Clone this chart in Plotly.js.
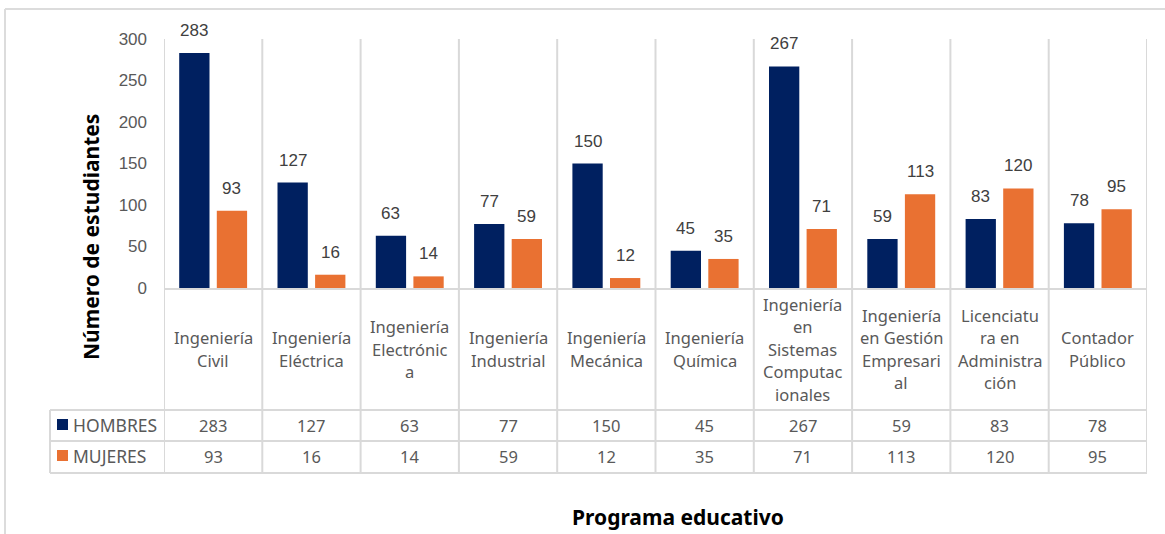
<!DOCTYPE html>
<html>
<head>
<meta charset="utf-8">
<script src="https://cdn.plot.ly/plotly-3.0.1.min.js"></script>
<style>html,body{margin:0;padding:0;background:#fff;}#chart{width:1165px;height:534px;}</style>
</head>
<body>
<div id="chart"></div>
<script>
// ---- data ----
const categories = ["Ingeniería Civil","Ingeniería Eléctrica","Ingeniería Electrónica","Ingeniería Industrial","Ingeniería Mecánica","Ingeniería Química","Ingeniería en Sistemas Computacionales","Ingeniería en Gestión Empresarial","Licenciatura en Administración","Contador Público"];
const categoryLabels = ["Ingeniería<br>Civil","Ingeniería<br>Eléctrica","Ingeniería<br>Electrónic<br>a","Ingeniería<br>Industrial","Ingeniería<br>Mecánica","Ingeniería<br>Química","Ingeniería<br>en<br>Sistemas<br>Computac<br>ionales","Ingeniería<br>en Gestión<br>Empresari<br>al","Licenciatu<br>ra en<br>Administra<br>ción","Contador<br>Público"];
const hombres = [283,127,63,77,150,45,267,59,83,78];
const mujeres = [93,16,14,59,12,35,71,113,120,95];
const seriesNames = ["HOMBRES","MUJERES"];
const yTicks = [0,50,100,150,200,250,300];

// ---- styling / layout helpers ----
const NAVY = "#002060", ORANGE = "#E97132", GRID = "#d9d9d9";
const W = 1165, H = 534, L = 164, R = 1147, T = 39, B = 288;
const px2x = p => (p - L) / (R - L);
const py2y = p => (B - p) / (B - T);
const N = categories.length;
const idx = categories.map((_, i) => i);
const series = [hombres, mujeres];
const colors = [NAVY, ORANGE];
const offs = [-18.8, 18.8];
const TXT = {family: "Noto Sans", size: 16.5, color: "#595959"};

const traces = series.map((vals, s) => ({
  type: "bar", x: idx, y: vals, name: seriesNames[s],
  marker: {color: colors[s]}, hoverinfo: "skip"
}));

const shapes = [];
const annotations = [];
const lineStyle = {color: GRID, width: 2};

// vertical category boundaries through plot, label area and table
for (let i = 0; i <= N; i++) {
  shapes.push({type: "line", xref: "x", yref: "paper", x0: i - 0.5, x1: i - 0.5, y0: py2y(473), y1: 1, line: lineStyle, layer: "below"});
}
// table horizontal lines
[410, 441, 473].forEach(py => shapes.push({type: "line", xref: "paper", yref: "paper", x0: px2x(50), x1: 1, y0: py2y(py), y1: py2y(py), line: lineStyle}));
// table left border
shapes.push({type: "line", xref: "paper", yref: "paper", x0: px2x(50), x1: px2x(50), y0: py2y(410), y1: py2y(473), line: lineStyle});
// outer frame
shapes.push({type: "line", xref: "paper", yref: "paper", x0: px2x(5), x1: px2x(1170), y0: py2y(9), y1: py2y(9), line: {color: "#dcdcdc", width: 2}});
shapes.push({type: "line", xref: "paper", yref: "paper", x0: px2x(5), x1: px2x(5), y0: py2y(9), y1: py2y(540), line: {color: "#dcdcdc", width: 2}});

// legend keys + names in table
const rowY = [425, 456];
series.forEach((vals, s) => {
  shapes.push({type: "rect", xref: "paper", yref: "paper", x0: px2x(57), x1: px2x(68), y0: py2y(rowY[s] - 6), y1: py2y(rowY[s] + 5), fillcolor: colors[s], line: {width: 0}});
  annotations.push({xref: "paper", yref: "paper", x: px2x(71), y: py2y(rowY[s]), xanchor: "left", yanchor: "middle", showarrow: false, text: seriesNames[s], font: {family: "Noto Sans", size: 17.5, color: "#595959"}});
  vals.forEach((v, i) => {
    // table values
    annotations.push({xref: "x", yref: "paper", x: i, y: py2y(rowY[s]), xanchor: "center", yanchor: "middle", showarrow: false, text: String(v), font: TXT});
    // data labels above bars
    annotations.push({xref: "x", yref: "y", x: i, y: v, xshift: offs[s], yshift: 11, xanchor: "center", yanchor: "bottom", showarrow: false, text: String(v), font: {family: "Liberation Sans, Arial", size: 17, color: "#404040"}});
  });
});

// category labels (line by line, centred in label band)
categoryLabels.forEach((lab, i) => {
  const lines = lab.split("<br>");
  const n = lines.length;
  lines.forEach((ln, k) => {
    const py = 349 + (k - (n - 1) / 2) * 22.5;
    annotations.push({xref: "x", yref: "paper", x: i, y: py2y(py), xanchor: "center", yanchor: "middle", showarrow: false, text: ln, font: TXT});
  });
});

// axis titles
annotations.push({xref: "paper", yref: "paper", x: px2x(91), y: py2y(237), xanchor: "center", yanchor: "middle", textangle: -90, showarrow: false, text: "<b>Número de estudiantes</b>", font: {family: "Noto Sans", size: 21, color: "#000"}});
annotations.push({xref: "paper", yref: "paper", x: px2x(678), y: py2y(517), xanchor: "center", yanchor: "middle", showarrow: false, text: "<b>Programa educativo</b>", font: {family: "Noto Sans", size: 21, color: "#000"}});

const layout = {
  width: W, height: H,
  margin: {l: L, r: W - R, t: T, b: H - B, pad: 0},
  paper_bgcolor: "#ffffff", plot_bgcolor: "rgba(0,0,0,0)",
  barmode: "group", bargap: 0.235, bargroupgap: 0.194,
  showlegend: false,
  xaxis: {range: [-0.5, N - 0.5], showticklabels: false, ticks: "", showgrid: false, zeroline: false, showline: true, linecolor: GRID, linewidth: 2, fixedrange: true},
  yaxis: {range: [0, 300], tickvals: yTicks, ticktext: yTicks.map(String), showgrid: false, zeroline: false, showline: false, ticks: "", ticklabelstandoff: 16, tickfont: {family: "Liberation Sans, Arial", size: 17, color: "#595959"}, fixedrange: true},
  shapes: shapes,
  annotations: annotations
};

Plotly.newPlot("chart", traces, layout, {displayModeBar: false, staticPlot: true});
</script>
</body>
</html>
